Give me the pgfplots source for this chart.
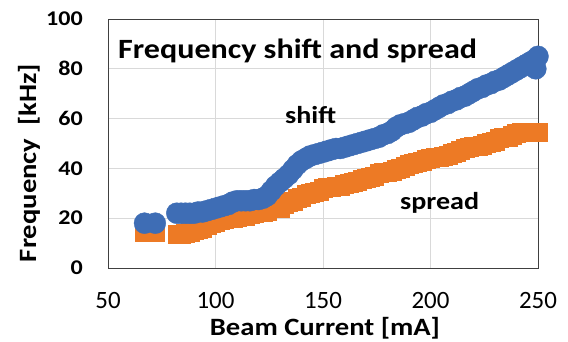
\documentclass[border=0pt]{standalone}
\usepackage{fontspec}
\setmainfont{Carlito}
\newfontfamily\wide{Carlito}[FakeStretch=1.15]
\usepackage{pgfplots}
\pgfplotsset{compat=1.18}
\definecolor{exblue}{HTML}{3E6DB5}
\definecolor{exorange}{HTML}{ED7A25}
\begin{document}
\begin{tikzpicture}
\begin{axis}[
  scale only axis, width=430bp, height=249bp,
  at={(108bp,74bp)}, anchor=south west,
  xmin=50, xmax=250, ymin=0, ymax=100,
  xtick={50,100,...,250}, ytick={0,20,...,100},
  grid=major, major grid style={draw=black!15, line width=0.9pt},
  axis line style={draw=black!75, line width=0.9pt},
  tick style={draw=none},
  /pgf/number format/assume math mode=true,
  yticklabel style={font=\wide\bfseries\fontsize{21}{21}\selectfont, inner sep=0pt, anchor=east, xshift=-25bp},
  xticklabel style={font=\fontsize{25}{25}\selectfont, inner sep=0pt, anchor=north, yshift=-24bp},
  clip=false,
]
\addplot[only marks, mark=square*, mark size=9bp, mark options={draw=exorange, fill=exorange}] coordinates {
(67,14.5) (72,14.5) (82,13.5) (84,13.5) (86,14) (88,14.5) (90,15) (92,15.5) (94,16) (96,17) (98,18) (100,18.5)
(102,19) (104,19.5) (106,20) (108,20) (110,20.5) (112,21) (114,21) (116,21.5) (118,22) (120,22.5) (122,22.5) (124,23)
(126,25) (128,25.5) (130,24) (132,25.5) (134,26.5) (136,27) (138,28) (140,28.5) (142,29.5) (144,30) (146,30.5) (148,31)
(150,32) (152,32.5) (154,32.5) (156,33) (158,33) (160,33.5) (162,34) (164,34.5) (166,35) (168,35.5) (170,36) (172,36.5)
(174,37) (176,38) (178,38.5) (180,38.5) (182,39) (184,39.5) (186,40) (188,41) (190,41.5) (192,42) (194,42.5) (196,43)
(198,43.5) (200,44) (202,44.5) (204,44.5) (206,45) (208,45.5) (210,46) (212,46.5) (214,47.5) (216,48) (218,48.5) (220,49)
(222,49) (224,49.5) (226,50) (228,50.5) (230,51) (232,52) (234,52.5) (236,52.5) (238,53.5) (240,54) (242,54.5) (244,54.5)
(246,54.5) (248,54.5) (250,54.5)
};
\addplot[only marks, mark=*, mark size=10.5bp, mark options={draw=exblue, fill=exblue}] coordinates {
(67,18) (72,18) (82,22) (84,22) (86,22) (88,22) (90,22) (92,22.5) (94,22.5) (96,23) (98,23.5) (100,24)
(102,24.5) (104,25) (106,25.5) (108,26.5) (110,27) (112,27) (114,27) (116,27) (118,27.5) (120,27.5) (122,28) (124,29)
(126,31) (128,33) (130,34.5) (132,36) (134,37.5) (136,39.5) (138,41.5) (140,43) (142,44) (144,45) (146,45.5) (148,46)
(150,46.5) (152,47) (154,47.5) (156,48) (158,48) (160,48.5) (162,49) (164,49.5) (166,50) (168,50.5) (170,51) (172,51.5)
(174,52) (176,52.5) (178,53.5) (180,54) (182,55) (184,56.5) (186,57.5) (188,58) (190,58.5) (192,59.5) (194,60.5) (196,61)
(198,62) (200,62.5) (202,63.5) (204,64.5) (206,65.5) (208,66) (210,67) (212,67.5) (214,68.5) (216,69) (218,70) (220,71)
(222,72) (224,72.5) (226,73.5) (228,74) (230,75) (232,75.5) (234,76.5) (236,77.5) (238,78.5) (240,79.5) (242,80.5) (244,81.5)
(246,82.5) (248,83.5) (250,85) (249,80)
};
\node[anchor=base west, inner sep=0pt, font=\wide\bfseries\fontsize{28}{28}\selectfont] at (axis cs:54.65,84.3) {Frequency shift and spread};
\node[anchor=base west, inner sep=0pt, font=\wide\bfseries\fontsize{24.5}{24.5}\selectfont] at (axis cs:132.3,58.2) {shift};
\node[anchor=base west, inner sep=0pt, font=\wide\bfseries\fontsize{24.5}{24.5}\selectfont] at (axis cs:185.8,23.3) {spread};
\end{axis}
\node[anchor=base, inner sep=0pt, font=\wide\bfseries\fontsize{25}{25}\selectfont] at (325bp,7bp) {Beam Current [mA]};
\node[anchor=base, rotate=90, inner sep=0pt, font=\wide\bfseries\fontsize{25}{25}\selectfont] at (36bp,179bp) {Frequency\ \ [kHz]};
\pgfresetboundingbox
\useasboundingbox (0,0) rectangle (568bp,342bp);
\end{tikzpicture}
\end{document}
